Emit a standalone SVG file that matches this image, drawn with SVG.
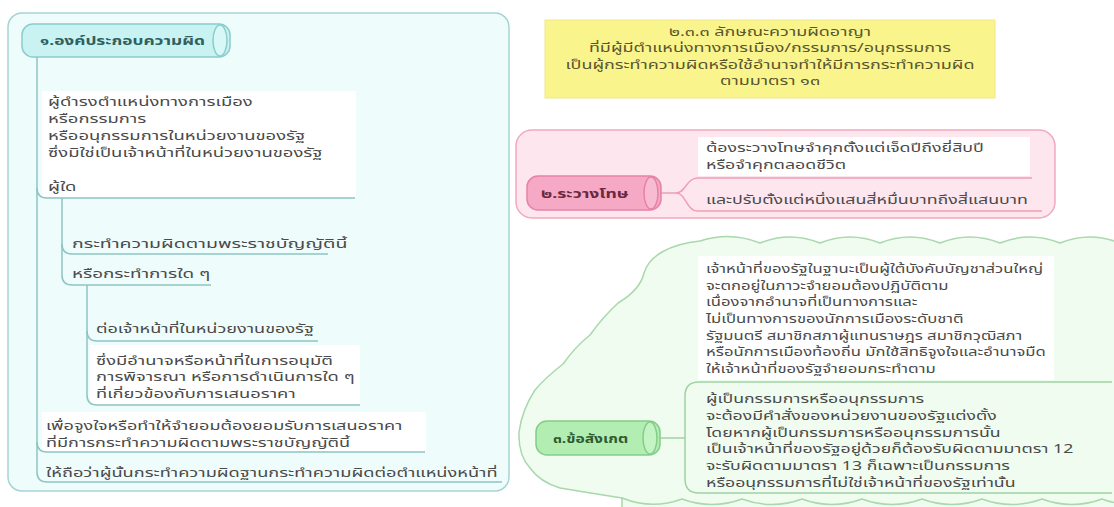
<svg xmlns="http://www.w3.org/2000/svg" width="1114" height="507" viewBox="0 0 1114 507">
<style>
.t{font-family:"Noto Sans Thai","Noto Sans Thai UI","Noto Sans","DejaVu Sans",sans-serif;font-size:12px;fill:#4a4a4a}
.ty{font-family:"Noto Sans Thai","Noto Sans","DejaVu Sans",sans-serif;font-size:12px;fill:#5a5630;text-anchor:middle}
.hd{font-family:"Noto Sans Thai","Noto Sans","DejaVu Sans",sans-serif;font-size:13px;font-weight:bold}
.lc{fill:none;stroke:#8ec4c4;stroke-width:1.5}
.lp{fill:none;stroke:#ee9fb6;stroke-width:1.5}
.lg{fill:none;stroke:#9fd2a4;stroke-width:1.5}
</style>
<rect width="1114" height="507" fill="#ffffff"/>

<g id="panel-1">
<rect x="8" y="13" width="501" height="478" rx="14" fill="#effcfc" stroke="#a6d4d4" stroke-width="1.5"/>
<rect x="42" y="91" width="314" height="106" fill="#ffffff"/>
<rect x="90" y="345" width="270" height="59" fill="#ffffff"/>
<rect x="42" y="412" width="384" height="39" fill="#ffffff"/>
</g>

<g id="panel-3">
<path d="M700,241 Q730,231 760,243 Q790,231 820,243 Q850,231 880,243 Q910,231 940,243 Q970,231 1000,243 Q1030,231 1060,243 Q1090,231 1120,243 L1120,512 L622,512 L622,498 Q590,493 560,488 Q540,482 530,468 Q518,455 519,432 Q522,410 535,390 Q545,378 563,364 Q575,347 590,335 Q602,318 618,303 Q640,290 644,273 Q648,260 662,252 Q678,243 700,241 Z" fill="#effcef" stroke="#a8d8ac" stroke-width="1.5"/>
<path d="M622,498 Q652,510 682,499 Q712,510 742,499 Q772,510 802,499 Q832,510 862,499 Q892,510 922,499 Q952,510 982,499 Q1012,510 1042,499 Q1072,510 1102,499 Q1112,503 1120,503" fill="none" stroke="#a8d8ac" stroke-width="1.5"/>
<rect x="698" y="256" width="356" height="124" fill="#ffffff"/>
</g>

<g id="panel-2">
<rect x="516" y="130" width="539" height="88" rx="16" fill="#fde6ee" stroke="#f2a9bd" stroke-width="1.5"/>
<rect x="698" y="137" width="332" height="39" fill="#ffffff"/>
</g>

<g id="connectors">
<path class="lc" d="M37,57 V472 Q37,482 47,482 H502"/>
<path class="lc" d="M37,188 Q37,198 47,198 H355"/>
<path class="lc" d="M37,442 Q37,452 47,452 H425"/>
<path class="lc" d="M62,198 V275 Q62,285 72,285 H211"/>
<path class="lc" d="M62,244 Q62,254 72,254 H328"/>
<path class="lc" d="M87,285 V395 Q87,405 97,405 H360"/>
<path class="lc" d="M87,331 Q87,341 97,341 H318"/>
<path class="lp" d="M661,193 H676 C686,193 686,178 698,178 H1032"/>
<path class="lp" d="M676,193 C686,193 686,211 698,211 H1042"/>
<path class="lg" d="M660,438 H685"/>
<path class="lg" d="M685,396 Q685,382 699,382 H1112"/>
<path class="lg" d="M685,396 V479 Q685,493 699,493 H1112"/>
</g>

<g id="node-main-1">
<rect x="22" y="24" width="208" height="33" rx="11" fill="#c9f3f3" stroke="#8ccccc" stroke-width="1.5"/>
<ellipse cx="220" cy="40.5" rx="7" ry="15.5" fill="#d8f7f7" stroke="#8ccccc" stroke-width="1.5"/>
<text class="hd" x="40" y="45" fill="#2f6060" transform="translate(-13.2,0) scale(1.33,1)">๑.องค์ประกอบความผิด</text>
</g>

<g id="node-1a" transform="translate(-25.82,0) scale(1.538,1)">
<text class="t" x="48" y="106">ผู้ดำรงตำแหน่งทางการเมือง</text>
<text class="t" x="48" y="123">หรือกรรมการ</text>
<text class="t" x="48" y="140">หรืออนุกรรมการในหน่วยงานของรัฐ</text>
<text class="t" x="48" y="157">ซึ่งมิใช่เป็นเจ้าหน้าที่ในหน่วยงานของรัฐ</text>
<text class="t" x="48" y="191">ผู้ใด</text>
</g>
<g id="node-1b" transform="translate(-45,0) scale(1.625,1)"><text class="t" x="72" y="248">กระทำความผิดตามพระราชบัญญัตินี้</text></g>
<g id="node-1c" transform="translate(-41.11,0) scale(1.571,1)"><text class="t" x="72" y="278">หรือกระทำการใด ๆ</text></g>
<g id="node-1d" transform="translate(-48.58,0) scale(1.506,1)"><text class="t" x="96" y="333">ต่อเจ้าหน้าที่ในหน่วยงานของรัฐ</text></g>
<g id="node-1e" transform="translate(-50.64,0) scale(1.5275,1)">
<text class="t" x="96" y="365">ซึ่งมีอำนาจหรือหน้าที่ในการอนุมัติ</text>
<text class="t" x="96" y="381.5">การพิจารณา หรือการดำเนินการใด ๆ</text>
<text class="t" x="96" y="398">ที่เกี่ยวข้องกับการเสนอราคา</text>
</g>
<g id="node-1f" transform="translate(-23.28,0) scale(1.506,1)">
<text class="t" x="46" y="430">เพื่อจูงใจหรือทำให้จำยอมต้องยอมรับการเสนอราคา</text>
<text class="t" x="46" y="447">ที่มีการกระทำความผิดตามพระราชบัญญัตินี้</text>
</g>
<g id="node-1g" transform="translate(-23.78,0) scale(1.517,1)"><text class="t" x="46" y="477">ให้ถือว่าผู้นั้นกระทำความผิดฐานกระทำความผิดต่อตำแหน่งหน้าที่</text></g>

<g id="node-title">
<rect x="545" y="20" width="450" height="78" fill="#f9f58c" stroke="#efe98a" stroke-width="1"/>
<g transform="translate(-381.15,0) scale(1.495,1)">
<text class="ty" x="770" y="36">๒.๓.๓ ลักษณะความผิดอาญา</text>
<text class="ty" x="770" y="52.5">ที่มีผู้มีตำแหน่งทางการเมือง/กรรมการ/อนุกรรมการ</text>
<text class="ty" x="770" y="69">เป็นผู้กระทำความผิดหรือใช้อำนาจทำให้มีการกระทำความผิด</text>
<text class="ty" x="770" y="85.5">ตามมาตรา ๑๓</text>
</g>
</g>

<g id="node-main-2">
<rect x="527" y="176" width="134" height="34" rx="11" fill="#f6a9c4" stroke="#e582a6" stroke-width="1.5"/>
<ellipse cx="651" cy="193" rx="7" ry="16" fill="#f8bcd2" stroke="#e582a6" stroke-width="1.5"/>
<text class="hd" x="541" y="198" fill="#6a2840" transform="translate(-189.35,0) scale(1.35,1)">๒.ระวางโทษ</text>
</g>
<g id="node-2a" transform="translate(-341.7,0) scale(1.484,1)">
<text class="t" x="706" y="152">ต้องระวางโทษจำคุกตั้งแต่เจ็ดปีถึงยี่สิบปี</text>
<text class="t" x="706" y="169">หรือจำคุกตลอดชีวิต</text>
</g>
<g id="node-2b" transform="translate(-341.7,0) scale(1.484,1)"><text class="t" x="706" y="204">และปรับตั้งแต่หนึ่งแสนสี่หมื่นบาทถึงสี่แสนบาท</text></g>

<g id="node-main-3">
<rect x="536" y="421" width="124" height="34" rx="11" fill="#b2eeb2" stroke="#85cc8a" stroke-width="1.5"/>
<ellipse cx="650" cy="438" rx="7" ry="16" fill="#c4f3c4" stroke="#85cc8a" stroke-width="1.5"/>
<text class="hd" x="553" y="443" fill="#2f5a32" transform="translate(-110.6,0) scale(1.2,1)">๓.ข้อสังเกต</text>
</g>
<g id="node-3a" transform="translate(-273.2,0) scale(1.387,1)">
<text class="t" x="706" y="273">เจ้าหน้าที่ของรัฐในฐานะเป็นผู้ใต้บังคับบัญชาส่วนใหญ่</text>
<text class="t" x="706" y="289.7">จะตกอยู่ในภาวะจำยอมต้องปฏิบัติตาม</text>
<text class="t" x="706" y="306.4">เนื่องจากอำนาจที่เป็นทางการและ</text>
<text class="t" x="706" y="323.1">ไม่เป็นทางการของนักการเมืองระดับชาติ</text>
<text class="t" x="706" y="339.8">รัฐมนตรี สมาชิกสภาผู้แทนราษฎร สมาชิกวุฒิสภา</text>
<text class="t" x="706" y="356.5">หรือนักการเมืองท้องถิ่น มักใช้สิทธิจูงใจและอำนาจมืด</text>
<text class="t" x="706" y="373.2">ให้เจ้าหน้าที่ของรัฐจำยอมกระทำตาม</text>
</g>
<g id="node-3b" transform="translate(-333.9,0) scale(1.473,1)">
<text class="t" x="706" y="403">ผู้เป็นกรรมการหรืออนุกรรมการ</text>
<text class="t" x="706" y="419.8">จะต้องมีคำสั่งของหน่วยงานของรัฐแต่งตั้ง</text>
<text class="t" x="706" y="436.6">โดยหากผู้เป็นกรรมการหรืออนุกรรมการนั้น</text>
<text class="t" x="706" y="453.4">เป็นเจ้าหน้าที่ของรัฐอยู่ด้วยก็ต้องรับผิดตามมาตรา 12</text>
<text class="t" x="706" y="470.2">จะรับผิดตามมาตรา 13 ก็เฉพาะเป็นกรรมการ</text>
<text class="t" x="706" y="487">หรืออนุกรรมการที่ไม่ใช่เจ้าหน้าที่ของรัฐเท่านั้น</text>
</g>
</svg>
